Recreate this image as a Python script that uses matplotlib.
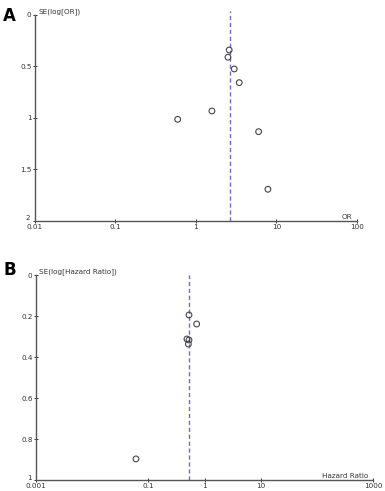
import matplotlib
matplotlib.use("Agg")
import matplotlib.pyplot as plt
import matplotlib.transforms as mtransforms
from matplotlib.ticker import FixedLocator, FixedFormatter

# Panel A data
or_values = [2.59, 2.50, 2.99, 3.45, 1.58, 6.01, 0.593, 7.84]
se_log_or = [0.34, 0.41, 0.524, 0.657, 0.932, 1.133, 1.013, 1.692]
or_pooled = 2.62
a_xticks = [0.01, 0.1, 1, 10, 100]
a_xlabels = ["0.01", "0.1", "1", "10", "100"]
a_yticks = [0, 0.5, 1, 1.5, 2]
a_ylabels = ["0", "0.5", "1", "1.5", "2"]

# Panel B data
hr_values = [0.526, 0.72, 0.484, 0.526, 0.513, 0.060]
se_log_hr = [0.195, 0.239, 0.312, 0.317, 0.337, 0.897]
hr_pooled = 0.526
b_xticks = [0.001, 0.1, 1, 10, 1000]
b_xlabels = ["0.001", "0.1", "1", "10", "1000"]
b_yticks = [0, 0.2, 0.4, 0.6, 0.8, 1]
b_ylabels = ["0", "0.2", "0.4", "0.6", "0.8", "1"]

fig = plt.figure(figsize=(3.85, 4.91), dpi=100)
axA = fig.add_axes([0.0909, 0.5499, 0.927 - 0.0909, 0.9695 - 0.5499])
axB = fig.add_axes([0.0935, 0.0224, 0.9697 - 0.0935, 0.4399 - 0.0224])

axis_col = "#555555"
dash_col = "#6b6bd0"
fs = 5.2


def style(ax, xticks, xlabels, yticks, ylabels, xlim, ylim, ylabel, xlabel):
    ax.set_xscale("log")
    ax.set_xlim(*xlim)
    ax.set_ylim(*ylim)
    for s in ["top", "right"]:
        ax.spines[s].set_visible(False)
    for s in ["left", "bottom"]:
        ax.spines[s].set_color(axis_col)
        ax.spines[s].set_linewidth(1.0)
    ax.xaxis.set_major_locator(FixedLocator(xticks))
    ax.xaxis.set_major_formatter(FixedFormatter(xlabels))
    ax.xaxis.set_minor_locator(FixedLocator([]))
    ax.yaxis.set_major_locator(FixedLocator(yticks))
    ax.yaxis.set_major_formatter(FixedFormatter(ylabels))
    ax.tick_params(axis="both", labelsize=fs, colors="#333333", length=3,
                   width=0.7, direction="inout", pad=1)
    ax.tick_params(axis="x", pad=0.5)
    ax.text(0.01, 1.0, ylabel, transform=ax.transAxes, fontsize=fs,
            ha="left", va="bottom", color="#333333")
    ax.text(0.985, 0.005, xlabel, transform=ax.transAxes, fontsize=fs,
            ha="right", va="bottom", color="#333333")
    ax.patch.set_alpha(0)


def nudge_bottom_label(ax, fig):
    fig.canvas.draw()
    labels = ax.get_yticklabels()
    lab = labels[-1]
    off = mtransforms.ScaledTranslation(-1 / 100, 3 / 100, fig.dpi_scale_trans)
    lab.set_transform(lab.get_transform() + off)


style(axA, a_xticks, a_xlabels, a_yticks, a_ylabels, (0.01, 100), (2, 0),
      "SE(log[OR])", "OR")
axA.axvline(or_pooled, ymin=0, ymax=1.02, color=dash_col, lw=1.0,
            ls=(0, (3, 2)), clip_on=False)
axA.scatter(or_values, se_log_or, s=17, facecolors="none",
            edgecolors="#444444", linewidths=0.8, zorder=3)

style(axB, b_xticks, b_xlabels, b_yticks, b_ylabels, (0.001, 1000), (1, 0),
      "SE(log[Hazard Ratio])", "Hazard Ratio")
axB.axvline(hr_pooled, ymin=0, ymax=1.0, color=dash_col, lw=1.0,
            ls=(0, (3, 2)), clip_on=False)
axB.scatter(hr_values, se_log_hr, s=17, facecolors="none",
            edgecolors="#444444", linewidths=0.8, zorder=3)

fig.text(0.008, 0.985, "A", fontsize=12, fontweight="bold", ha="left", va="top")
fig.text(0.008, 0.468, "B", fontsize=12, fontweight="bold", ha="left", va="top")

nudge_bottom_label(axA, fig)
nudge_bottom_label(axB, fig)

fig.savefig("out.png", dpi=100)
